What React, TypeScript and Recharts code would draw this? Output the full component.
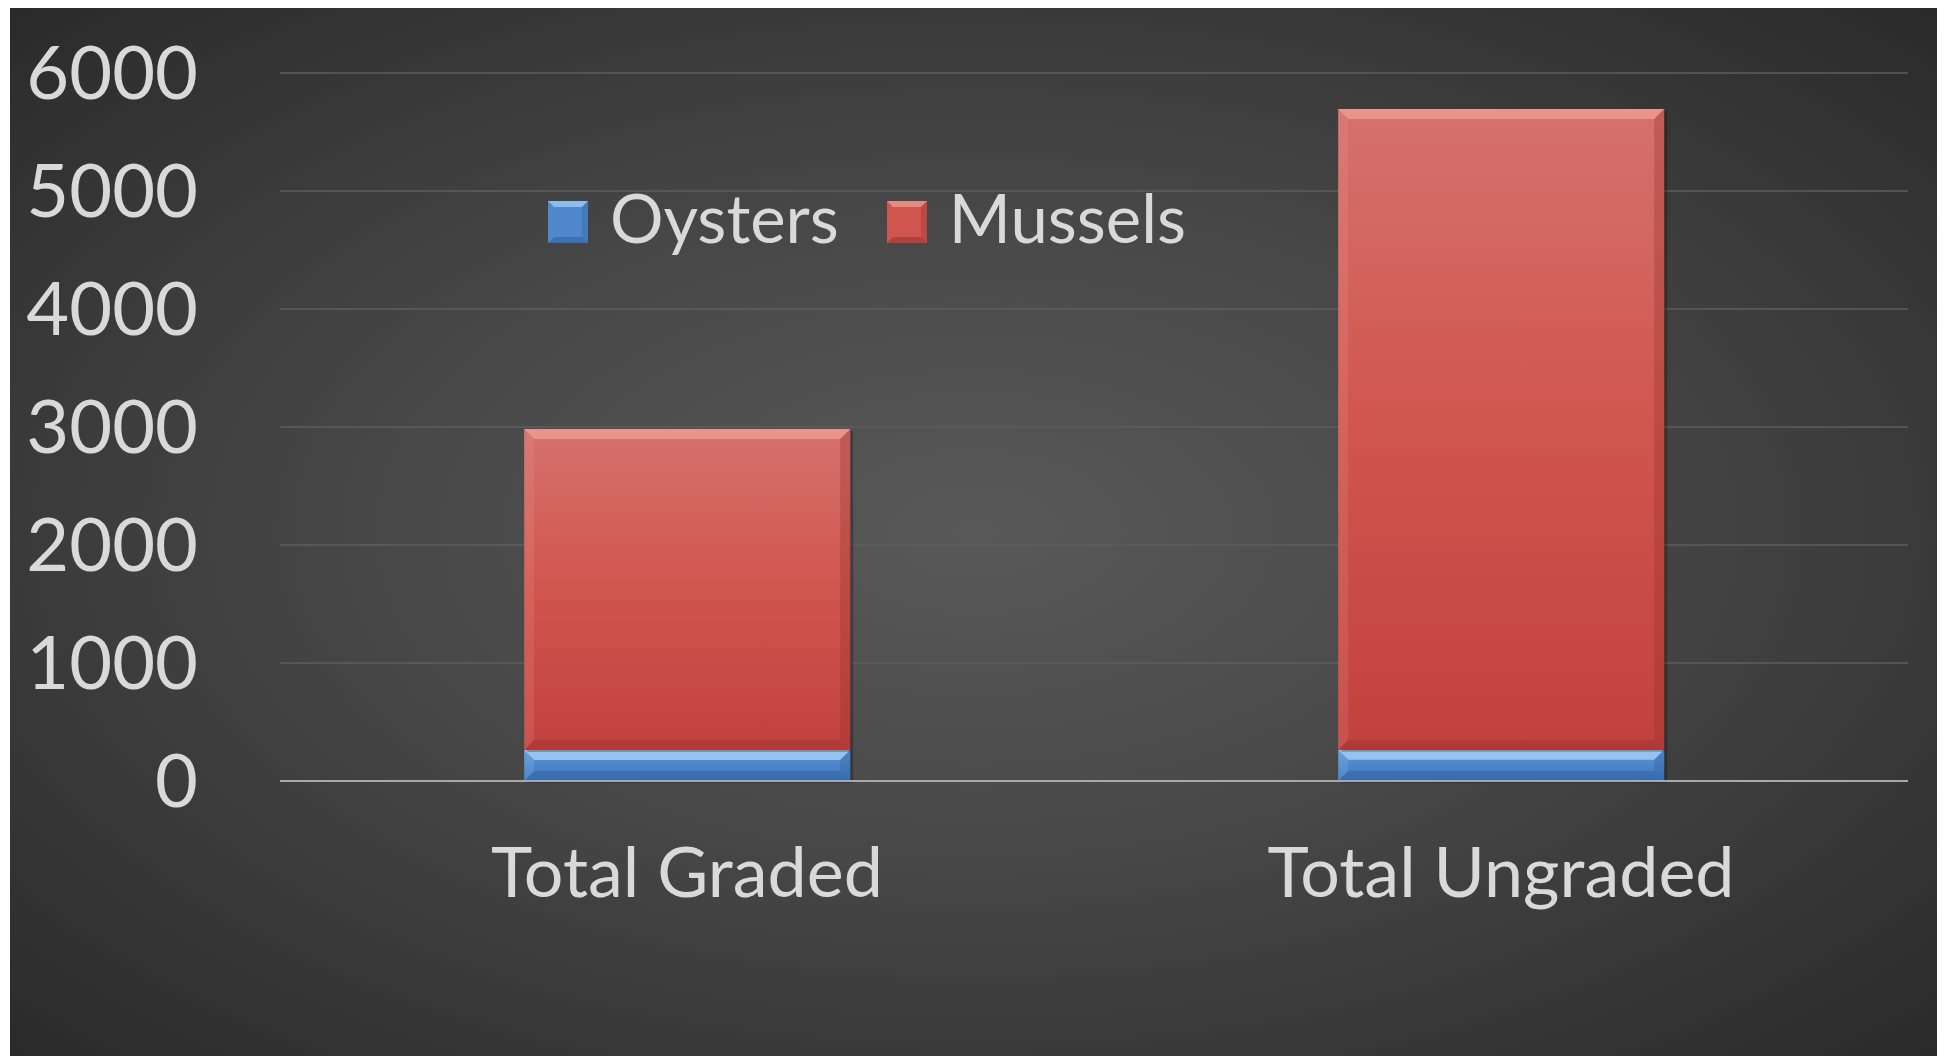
import React from "react";
import { BarChart, Bar, XAxis, YAxis, CartesianGrid, Legend } from "recharts";

const categories = ["Total Graded", "Total Ungraded"];
const oysters = [263, 265];
const mussels = [2720, 5430];
const yTicks = [0, 1000, 2000, 3000, 4000, 5000, 6000];
const legendOrder = ["Oysters", "Mussels"];

const data = categories.map((name, i) => ({
  name,
  Oysters: oysters[i],
  Mussels: mussels[i],
}));

const FONT = "Lato, 'Open Sans', sans-serif";
const TEXT = "#d9d9d9";

const palettes: Record<string, { top: string; mid: string; bottom: string; light: string; dark: string }> = {
  red: { top: "#d5716c", mid: "#d1554f", bottom: "#c1413f", light: "#f0a09a", dark: "#8f2f2c" },
  blue: { top: "#5b96d8", mid: "#4f88cc", bottom: "#3f74bb", light: "#a9d3fb", dark: "#2f5a94" },
};

function BevelBar(props: any) {
  const { x, y, width, height, tone } = props;
  if (!width || !height || height <= 0) return null;
  const p = palettes[tone];
  const b = Math.min(10, height / 3);
  return (
    <g>
      <rect x={x + 3} y={y + 2} width={width} height={height} fill="rgba(0,0,0,0.25)" />
      <rect x={x} y={y} width={width} height={height} fill={`url(#grad-${tone})`} />
      <polygon
        points={`${x},${y} ${x + width},${y} ${x + width - b},${y + b} ${x + b},${y + b}`}
        fill={p.light}
        opacity={0.75}
      />
      <polygon
        points={`${x},${y} ${x + b},${y + b} ${x + b},${y + height - b} ${x},${y + height}`}
        fill={p.light}
        opacity={0.18}
      />
      <polygon
        points={`${x + width},${y} ${x + width},${y + height} ${x + width - b},${y + height - b} ${x + width - b},${y + b}`}
        fill={p.dark}
        opacity={0.3}
      />
      <polygon
        points={`${x},${y + height} ${x + width},${y + height} ${x + width - b},${y + height - b} ${x + b},${y + height - b}`}
        fill={p.dark}
        opacity={0.35}
      />
    </g>
  );
}

function LegendSwatch({ tone }: { tone: string }) {
  const p = palettes[tone];
  return (
    <svg width={40} height={42} style={{ display: "block" }}>
      <rect x={0} y={0} width={40} height={42} fill={p.mid} />
      <polygon points="0,0 40,0 34,6 6,6" fill={p.light} opacity={0.7} />
      <polygon points="0,42 40,42 34,36 6,36" fill={p.dark} opacity={0.5} />
      <polygon points="40,0 40,42 34,36 34,6" fill={p.dark} opacity={0.3} />
    </svg>
  );
}

function LegendContent(props: any) {
  const items = [...(props.payload || [])].sort(
    (a: any, b: any) => legendOrder.indexOf(a.value) - legendOrder.indexOf(b.value)
  );
  return (
    <div style={{ display: "flex", alignItems: "center", fontFamily: FONT, color: TEXT, fontSize: 67 }}>
      {items.map((it: any, i: number) => (
        <div key={it.value} style={{ display: "flex", alignItems: "center", marginLeft: i === 0 ? 0 : 48 }}>
          <LegendSwatch tone={it.value === "Oysters" ? "blue" : "red"} />
          <span style={{ marginLeft: 22, lineHeight: "42px", position: "relative", top: -5 }}>{it.value}</span>
        </div>
      ))}
    </div>
  );
}

export default function App() {
  return (
    <div
      style={{
        marginLeft: 2,
        width: 1929,
        height: 1048,
        background: "radial-gradient(ellipse at 50% 50%, #595959 0%, #474747 45%, #2a2a2a 100%)",
      }}
    >
      <BarChart
        width={1929}
        height={1048}
        data={data}
        margin={{ top: 65, right: 31, bottom: 0, left: 0 }}
        barCategoryGap="30%"
      >
        <defs>
          <linearGradient id="grad-red" x1="0" y1="0" x2="0" y2="1">
            <stop offset="0%" stopColor={palettes.red.top} />
            <stop offset="50%" stopColor={palettes.red.mid} />
            <stop offset="100%" stopColor={palettes.red.bottom} />
          </linearGradient>
          <linearGradient id="grad-blue" x1="0" y1="0" x2="0" y2="1">
            <stop offset="0%" stopColor={palettes.blue.top} />
            <stop offset="100%" stopColor={palettes.blue.bottom} />
          </linearGradient>
        </defs>
        <CartesianGrid vertical={false} stroke="#5e5e5e" strokeWidth={1.5} />
        <XAxis
          dataKey="name"
          height={275}
          tickLine={false}
          tickSize={0}
          tickMargin={66}
          axisLine={{ stroke: "#a8a8a8", strokeWidth: 2 }}
          tick={{ fill: TEXT, fontSize: 70, fontFamily: FONT }}
        />
        <YAxis
          width={270}
          domain={[0, 6000]}
          ticks={yTicks}
          axisLine={false}
          tickLine={false}
          tickSize={0}
          tickMargin={82}
          tick={{ fill: TEXT, fontSize: 74, fontFamily: FONT }}
        />
        <Legend
          layout="vertical"
          align="center"
          verticalAlign="middle"
          wrapperStyle={{ top: 193, left: 538, width: "auto" }}
          content={<LegendContent />}
        />
        <Bar
          dataKey="Oysters"
          stackId="a"
          fill={palettes.blue.mid}
          isAnimationActive={false}
          shape={(p: any) => <BevelBar {...p} tone="blue" />}
        />
        <Bar
          dataKey="Mussels"
          stackId="a"
          fill={palettes.red.mid}
          isAnimationActive={false}
          shape={(p: any) => <BevelBar {...p} tone="red" />}
        />
      </BarChart>
    </div>
  );
}
